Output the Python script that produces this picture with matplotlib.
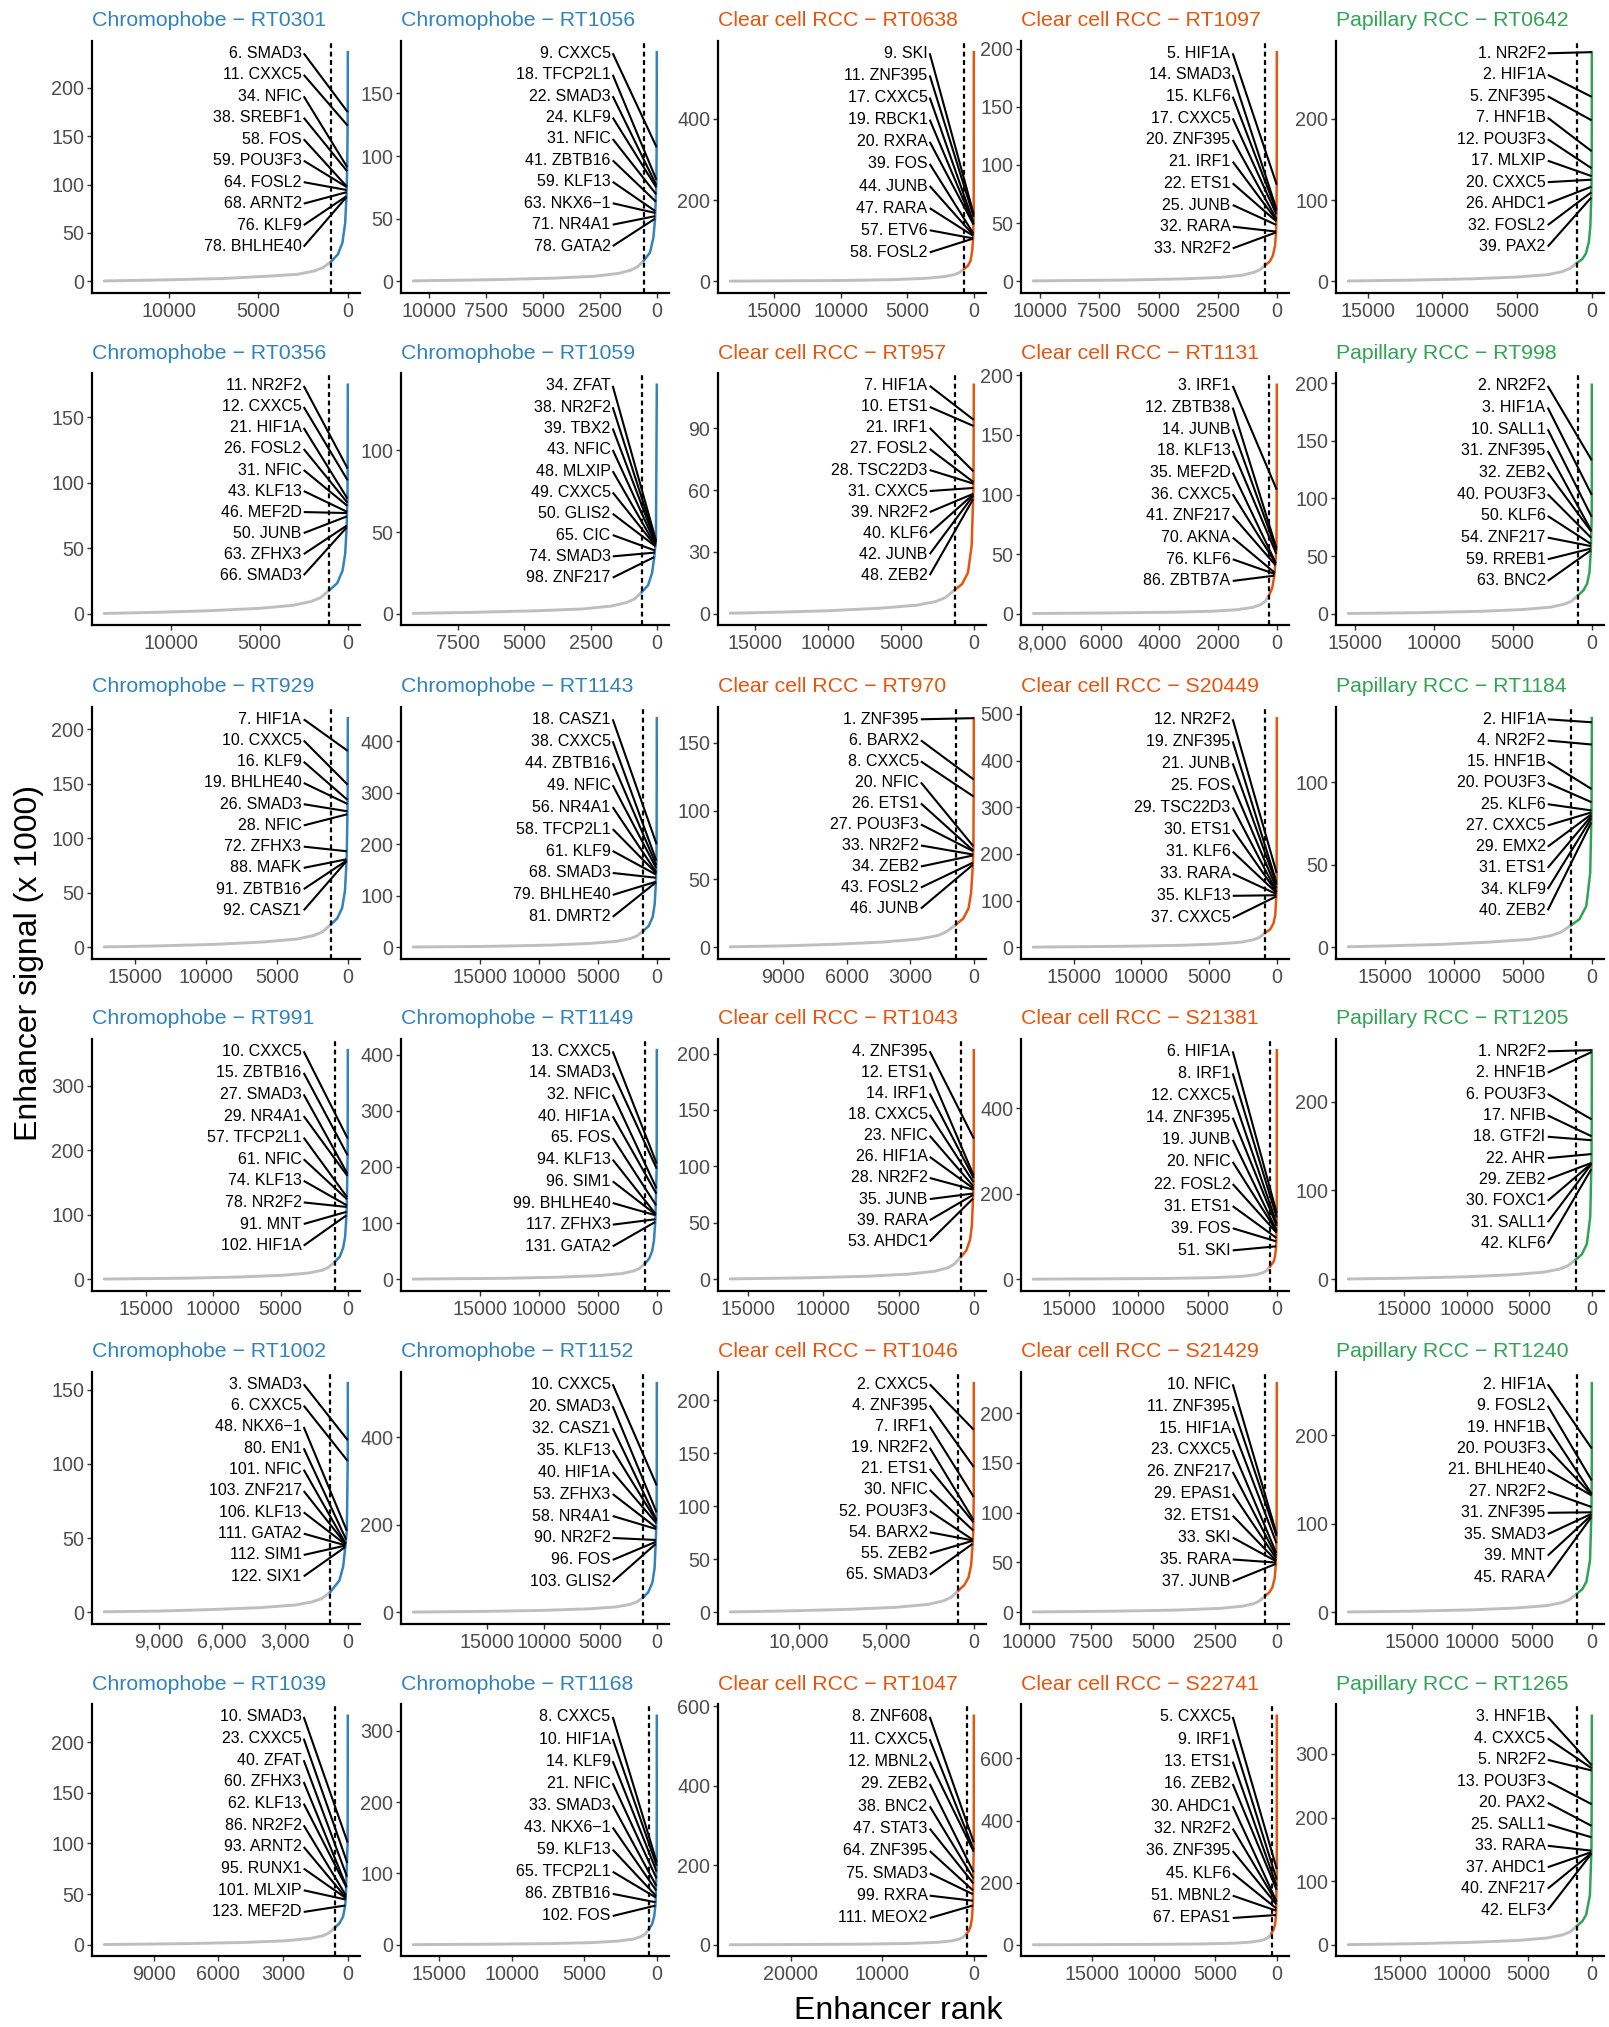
import numpy as np
import matplotlib
matplotlib.use("Agg")
import matplotlib.pyplot as plt

plt.rcParams['font.family'] = ['Liberation Sans', 'DejaVu Sans']

# ---- data -----------------------------------------------------------------
COLUMN_SUBTYPE = ["Chromophobe", "Chromophobe", "Clear cell RCC", "Clear cell RCC", "Papillary RCC"]
SUBTYPE_COLOR = {"Chromophobe": "#3182BD", "Clear cell RCC": "#E6550D", "Papillary RCC": "#31A354"}

SAMPLES = ["RT0301", "RT1056", "RT0638", "RT1097", "RT0642",
           "RT0356", "RT1059", "RT957", "RT1131", "RT998",
           "RT929", "RT1143", "RT970", "S20449", "RT1184",
           "RT991", "RT1149", "RT1043", "S21381", "RT1205",
           "RT1002", "RT1152", "RT1046", "S21429", "RT1240",
           "RT1039", "RT1168", "RT1047", "S22741", "RT1265"]

CUTOFF_RANK = [950, 570, 740, 480, 1000,
               1050, 570, 1300, 270, 880,
               1200, 1140, 850, 870, 1500,
               960, 1000, 860, 490, 1300,
               840, 1200, 880, 460, 1250,
               580, 540, 790, 420, 1150]

# enhancer rank / signal (x 1000) points
CURVE_RANK = [
    [1, 6, 11, 34, 78, 150, 300, 550, 950, 1400, 1900, 2800, 4500, 7000, 10000, 13600],
    [1, 9, 18, 78, 150, 300, 570, 850, 1150, 1700, 2800, 4500, 7000, 10700],
    [1, 9, 58, 120, 250, 450, 740, 1100, 1500, 2200, 3700, 6000, 10000, 18300],
    [1, 5, 14, 33, 80, 170, 300, 480, 720, 1000, 1450, 2400, 4000, 6500, 10300],
    [1, 2, 5, 7, 12, 20, 39, 100, 200, 400, 650, 1000, 1500, 2000, 3000, 5000, 8000, 12000, 16300],
    [1, 11, 12, 21, 46, 66, 150, 300, 600, 1050, 1550, 2100, 3100, 5000, 8000, 11000, 13800],
    [1, 34, 98, 180, 330, 570, 850, 1150, 1700, 2800, 4500, 7000, 9200],
    [1, 7, 10, 21, 31, 48, 150, 400, 800, 1300, 1950, 2600, 3900, 6500, 10000, 14000, 16700],
    [1, 3, 12, 86, 160, 270, 400, 540, 800, 1350, 2200, 3500, 5500, 8300],
    [1, 2, 3, 10, 31, 63, 150, 300, 550, 880, 1300, 1760, 2600, 4400, 7000, 11000, 15400],
    [1, 7, 10, 16, 26, 72, 92, 200, 400, 750, 1200, 1800, 2400, 3600, 6000, 9500, 13500, 17200],
    [1, 18, 38, 68, 81, 180, 350, 700, 1140, 1700, 2300, 3400, 5700, 9000, 14000, 20700],
    [1, 6, 8, 20, 33, 46, 130, 250, 500, 850, 1300, 1700, 2600, 4300, 6500, 9000, 11500],
    [1, 12, 37, 120, 250, 500, 870, 1300, 1750, 2600, 4400, 7000, 11000, 15000, 18000],
    [1, 2, 4, 15, 20, 25, 40, 120, 400, 900, 1500, 2250, 3000, 4500, 7500, 11000, 15000, 17700],
    [1, 10, 15, 78, 102, 200, 350, 600, 960, 1450, 1900, 2900, 4800, 8000, 12000, 18100],
    [1, 13, 14, 131, 250, 400, 650, 1000, 1500, 2000, 3000, 5000, 8500, 13000, 20700],
    [1, 4, 12, 35, 53, 130, 250, 500, 860, 1300, 1700, 2600, 4300, 7000, 11000, 16200],
    [1, 6, 39, 51, 120, 220, 490, 730, 1000, 1500, 2500, 4500, 8000, 13000, 17600],
    [1, 2, 6, 17, 22, 29, 42, 130, 400, 800, 1300, 1950, 2600, 3900, 6500, 10000, 15000, 19500],
    [1, 3, 6, 48, 122, 220, 400, 840, 1250, 1700, 2500, 4200, 6500, 9000, 11600],
    [1, 10, 20, 58, 90, 103, 200, 400, 750, 1200, 1800, 2400, 3600, 6000, 10000, 15000, 21500],
    [1, 2, 4, 7, 30, 54, 65, 150, 300, 550, 880, 1300, 1750, 2600, 4400, 7000, 10500, 13900],
    [1, 10, 37, 90, 180, 300, 460, 700, 920, 1400, 2300, 4000, 6500, 9850],
    [1, 2, 9, 21, 27, 31, 45, 150, 450, 800, 1250, 1900, 2500, 3750, 6300, 10000, 15000, 20300],
    [1, 10, 101, 123, 220, 380, 580, 870, 1150, 1750, 2900, 4800, 7500, 11300],
    [1, 8, 86, 102, 180, 330, 540, 800, 1100, 1600, 2700, 4500, 7500, 12000, 16800],
    [1, 8, 99, 111, 200, 350, 550, 790, 1200, 1600, 2400, 4000, 7000, 12000, 19000, 26600],
    [1, 5, 51, 67, 130, 250, 420, 630, 850, 1250, 2100, 3500, 6000, 10000, 15000, 19800],
    [1, 3, 5, 13, 20, 25, 33, 42, 150, 450, 750, 1150, 1700, 2300, 3500, 5800, 9500, 14000, 19100],
]
CURVE_SIGNAL = [
    [237, 175, 161, 118, 87, 60, 40, 28, 20, 14, 10.5, 7.2, 5.2, 2.8, 1.5, 0.3],
    [183, 107, 81, 50, 35, 23, 16.5, 11.5, 8.8, 6.2, 3.9, 2.5, 1.3, 0.3],
    [564, 165, 105, 75, 50, 38, 30, 21, 16, 11.5, 7, 4, 1.8, 0.3],
    [197, 83, 62, 42, 30, 22, 17, 14, 9.8, 7.5, 5.2, 3.3, 2, 1, 0.3],
    [282, 227, 198, 160, 139, 125, 103, 68, 48, 34, 27, 22.5, 15.5, 11.7, 8, 5.2, 3, 1.4, 0.3],
    [175, 111, 102, 88, 77, 66, 46, 33, 23.5, 18, 12.3, 9.4, 6.5, 4.2, 2.3, 1.1, 0.3],
    [140, 45, 34.7, 25, 17.5, 13.3, 9, 6.9, 4.8, 3, 1.9, 0.9, 0.3],
    [111, 94, 91, 69, 61, 55.6, 33, 20, 14.5, 11.6, 7.9, 6, 4.2, 2.7, 1.5, 0.7, 0.3],
    [192, 104, 55, 32, 21.5, 15.3, 10.4, 8, 5.5, 3.5, 2.2, 1.4, 0.8, 0.3],
    [198.5, 133, 103, 84, 72, 55, 36, 26, 20, 16, 10.9, 8.3, 5.8, 3.7, 2.2, 1, 0.3],
    [210, 180, 149, 135, 124.6, 88, 79, 52, 36, 26.5, 20.8, 14.1, 10.8, 7.5, 4.8, 2.6, 1.2, 0.3],
    [445, 200, 168, 135, 126, 84, 59, 41, 32, 21.8, 16.6, 11.5, 7.4, 4.2, 1.8, 0.4],
    [168, 123, 110.5, 74, 68, 60.5, 40, 28.5, 21, 16.6, 11.3, 8.6, 6, 3.8, 2.2, 1, 0.3],
    [491, 159, 109, 68, 51, 38, 30.7, 20.9, 16, 11, 7, 4.2, 2.2, 1, 0.3],
    [139, 136.5, 123, 96, 88, 83, 75.7, 45, 25, 17, 13.4, 9.1, 7, 4.8, 3.1, 1.7, 0.8, 0.3],
    [355, 218, 192, 112, 99, 66, 48.5, 35, 27, 18.4, 14, 9.7, 6.2, 3.5, 1.7, 0.3],
    [408, 206, 197, 102, 68, 50, 37, 28, 19, 14.6, 10, 6.4, 3.6, 1.7, 0.3],
    [203, 124.7, 92, 76, 71.5, 48, 35, 25.5, 19.8, 13.5, 10.3, 7.1, 4.6, 2.7, 1.3, 0.3],
    [536, 155, 88.6, 77, 55, 42, 29.8, 20.3, 15.5, 10.7, 6.8, 3.8, 1.9, 0.9, 0.3],
    [258, 256, 180, 161, 141, 131, 124, 70, 39.7, 28, 21.9, 14.9, 11.4, 7.9, 5, 2.8, 1.2, 0.3],
    [154.5, 116, 102, 55, 44, 31, 21.5, 13.5, 9.2, 7, 4.9, 3.1, 1.8, 0.8, 0.3],
    [523, 289.5, 228, 190, 165, 156, 100, 67, 46, 34, 23, 17.7, 12.2, 7.8, 4.3, 2, 0.4],
    [216, 172, 137, 108.7, 77, 67.7, 64.6, 45, 32.9, 25.5, 20.5, 14, 10.7, 7.4, 4.7, 2.8, 1.3, 0.3],
    [230, 78.7, 48.6, 34, 25, 20, 16.8, 11.4, 8.7, 6, 3.9, 2.2, 1.1, 0.3],
    [259, 185, 149, 132, 119, 113, 107.5, 59, 34.5, 26, 20.8, 14.1, 10.8, 7.5, 4.8, 2.7, 1.2, 0.3],
    [226, 101, 44.7, 38.8, 28, 21.5, 17.4, 11.8, 9, 6.3, 4, 2.4, 1.2, 0.3],
    [321, 116, 59.7, 55, 40, 29, 22.4, 15.2, 11.6, 8.1, 5.2, 3.1, 1.7, 0.8, 0.3],
    [576.5, 258, 111, 99, 68, 47, 35, 27.7, 18.8, 14.4, 10, 6.4, 3.6, 1.8, 0.8, 0.3],
    [737, 244, 110, 96, 68, 50, 38.6, 26.2, 20, 14, 8.9, 5.3, 3, 1.5, 0.7, 0.3],
    [360, 282, 274, 221, 187, 169, 148, 143, 78, 47, 37, 30, 20.4, 15.6, 10.8, 6.9, 3.9, 1.8, 0.3],
]

TF_RANK = [
    [6, 11, 34, 38, 58, 59, 64, 68, 76, 78],
    [9, 18, 22, 24, 31, 41, 59, 63, 71, 78],
    [9, 11, 17, 19, 20, 39, 44, 47, 57, 58],
    [5, 14, 15, 17, 20, 21, 22, 25, 32, 33],
    [1, 2, 5, 7, 12, 17, 20, 26, 32, 39],
    [11, 12, 21, 26, 31, 43, 46, 50, 63, 66],
    [34, 38, 39, 43, 48, 49, 50, 65, 74, 98],
    [7, 10, 21, 27, 28, 31, 39, 40, 42, 48],
    [3, 12, 14, 18, 35, 36, 41, 70, 76, 86],
    [2, 3, 10, 31, 32, 40, 50, 54, 59, 63],
    [7, 10, 16, 19, 26, 28, 72, 88, 91, 92],
    [18, 38, 44, 49, 56, 58, 61, 68, 79, 81],
    [1, 6, 8, 20, 26, 27, 33, 34, 43, 46],
    [12, 19, 21, 25, 29, 30, 31, 33, 35, 37],
    [2, 4, 15, 20, 25, 27, 29, 31, 34, 40],
    [10, 15, 27, 29, 57, 61, 74, 78, 91, 102],
    [13, 14, 32, 40, 65, 94, 96, 99, 117, 131],
    [4, 12, 14, 18, 23, 26, 28, 35, 39, 53],
    [6, 8, 12, 14, 19, 20, 22, 31, 39, 51],
    [1, 2, 6, 17, 18, 22, 29, 30, 31, 42],
    [3, 6, 48, 80, 101, 103, 106, 111, 112, 122],
    [10, 20, 32, 35, 40, 53, 58, 90, 96, 103],
    [2, 4, 7, 19, 21, 30, 52, 54, 55, 65],
    [10, 11, 15, 23, 26, 29, 32, 33, 35, 37],
    [2, 9, 19, 20, 21, 27, 31, 35, 39, 45],
    [10, 23, 40, 60, 62, 86, 93, 95, 101, 123],
    [8, 10, 14, 21, 33, 43, 59, 65, 86, 102],
    [8, 11, 12, 29, 38, 47, 64, 75, 99, 111],
    [5, 9, 13, 16, 30, 32, 36, 45, 51, 67],
    [3, 4, 5, 13, 20, 25, 33, 37, 40, 42],
]
TF_NAME = [
    ["SMAD3", "CXXC5", "NFIC", "SREBF1", "FOS", "POU3F3", "FOSL2", "ARNT2", "KLF9", "BHLHE40"],
    ["CXXC5", "TFCP2L1", "SMAD3", "KLF9", "NFIC", "ZBTB16", "KLF13", "NKX6\u22121", "NR4A1", "GATA2"],
    ["SKI", "ZNF395", "CXXC5", "RBCK1", "RXRA", "FOS", "JUNB", "RARA", "ETV6", "FOSL2"],
    ["HIF1A", "SMAD3", "KLF6", "CXXC5", "ZNF395", "IRF1", "ETS1", "JUNB", "RARA", "NR2F2"],
    ["NR2F2", "HIF1A", "ZNF395", "HNF1B", "POU3F3", "MLXIP", "CXXC5", "AHDC1", "FOSL2", "PAX2"],
    ["NR2F2", "CXXC5", "HIF1A", "FOSL2", "NFIC", "KLF13", "MEF2D", "JUNB", "ZFHX3", "SMAD3"],
    ["ZFAT", "NR2F2", "TBX2", "NFIC", "MLXIP", "CXXC5", "GLIS2", "CIC", "SMAD3", "ZNF217"],
    ["HIF1A", "ETS1", "IRF1", "FOSL2", "TSC22D3", "CXXC5", "NR2F2", "KLF6", "JUNB", "ZEB2"],
    ["IRF1", "ZBTB38", "JUNB", "KLF13", "MEF2D", "CXXC5", "ZNF217", "AKNA", "KLF6", "ZBTB7A"],
    ["NR2F2", "HIF1A", "SALL1", "ZNF395", "ZEB2", "POU3F3", "KLF6", "ZNF217", "RREB1", "BNC2"],
    ["HIF1A", "CXXC5", "KLF9", "BHLHE40", "SMAD3", "NFIC", "ZFHX3", "MAFK", "ZBTB16", "CASZ1"],
    ["CASZ1", "CXXC5", "ZBTB16", "NFIC", "NR4A1", "TFCP2L1", "KLF9", "SMAD3", "BHLHE40", "DMRT2"],
    ["ZNF395", "BARX2", "CXXC5", "NFIC", "ETS1", "POU3F3", "NR2F2", "ZEB2", "FOSL2", "JUNB"],
    ["NR2F2", "ZNF395", "JUNB", "FOS", "TSC22D3", "ETS1", "KLF6", "RARA", "KLF13", "CXXC5"],
    ["HIF1A", "NR2F2", "HNF1B", "POU3F3", "KLF6", "CXXC5", "EMX2", "ETS1", "KLF9", "ZEB2"],
    ["CXXC5", "ZBTB16", "SMAD3", "NR4A1", "TFCP2L1", "NFIC", "KLF13", "NR2F2", "MNT", "HIF1A"],
    ["CXXC5", "SMAD3", "NFIC", "HIF1A", "FOS", "KLF13", "SIM1", "BHLHE40", "ZFHX3", "GATA2"],
    ["ZNF395", "ETS1", "IRF1", "CXXC5", "NFIC", "HIF1A", "NR2F2", "JUNB", "RARA", "AHDC1"],
    ["HIF1A", "IRF1", "CXXC5", "ZNF395", "JUNB", "NFIC", "FOSL2", "ETS1", "FOS", "SKI"],
    ["NR2F2", "HNF1B", "POU3F3", "NFIB", "GTF2I", "AHR", "ZEB2", "FOXC1", "SALL1", "KLF6"],
    ["SMAD3", "CXXC5", "NKX6\u22121", "EN1", "NFIC", "ZNF217", "KLF13", "GATA2", "SIM1", "SIX1"],
    ["CXXC5", "SMAD3", "CASZ1", "KLF13", "HIF1A", "ZFHX3", "NR4A1", "NR2F2", "FOS", "GLIS2"],
    ["CXXC5", "ZNF395", "IRF1", "NR2F2", "ETS1", "NFIC", "POU3F3", "BARX2", "ZEB2", "SMAD3"],
    ["NFIC", "ZNF395", "HIF1A", "CXXC5", "ZNF217", "EPAS1", "ETS1", "SKI", "RARA", "JUNB"],
    ["HIF1A", "FOSL2", "HNF1B", "POU3F3", "BHLHE40", "NR2F2", "ZNF395", "SMAD3", "MNT", "RARA"],
    ["SMAD3", "CXXC5", "ZFAT", "ZFHX3", "KLF13", "NR2F2", "ARNT2", "RUNX1", "MLXIP", "MEF2D"],
    ["CXXC5", "HIF1A", "KLF9", "NFIC", "SMAD3", "NKX6\u22121", "KLF13", "TFCP2L1", "ZBTB16", "FOS"],
    ["ZNF608", "CXXC5", "MBNL2", "ZEB2", "BNC2", "STAT3", "ZNF395", "SMAD3", "RXRA", "MEOX2"],
    ["CXXC5", "IRF1", "ETS1", "ZEB2", "AHDC1", "NR2F2", "ZNF395", "KLF6", "MBNL2", "EPAS1"],
    ["HNF1B", "CXXC5", "NR2F2", "POU3F3", "PAX2", "SALL1", "RARA", "AHDC1", "ZNF217", "ELF3"],
]

X_TICKS = [
    [10000, 5000, 0], [10000, 7500, 5000, 2500, 0], [15000, 10000, 5000, 0],
    [10000, 7500, 5000, 2500, 0], [15000, 10000, 5000, 0],
    [10000, 5000, 0], [7500, 5000, 2500, 0], [15000, 10000, 5000, 0],
    [8000, 6000, 4000, 2000, 0], [15000, 10000, 5000, 0],
    [15000, 10000, 5000, 0], [15000, 10000, 5000, 0], [9000, 6000, 3000, 0],
    [15000, 10000, 5000, 0], [15000, 10000, 5000, 0],
    [15000, 10000, 5000, 0], [15000, 10000, 5000, 0], [15000, 10000, 5000, 0],
    [15000, 10000, 5000, 0], [15000, 10000, 5000, 0],
    [9000, 6000, 3000, 0], [15000, 10000, 5000, 0], [10000, 5000, 0],
    [10000, 7500, 5000, 2500, 0], [15000, 10000, 5000, 0],
    [9000, 6000, 3000, 0], [15000, 10000, 5000, 0], [20000, 10000, 0],
    [15000, 10000, 5000, 0], [15000, 10000, 5000, 0],
]
X_TICK_TEXT = {8: ["8,000", "6000", "4000", "2000", "0"],
               20: ["9,000", "6,000", "3,000", "0"],
               22: ["10,000", "5,000", "0"]}

Y_TICKS = [
    [0, 50, 100, 150, 200], [0, 50, 100, 150], [0, 200, 400], [0, 50, 100, 150, 200], [0, 100, 200],
    [0, 50, 100, 150], [0, 50, 100], [0, 30, 60, 90], [0, 50, 100, 150, 200], [0, 50, 100, 150, 200],
    [0, 50, 100, 150, 200], [0, 100, 200, 300, 400], [0, 50, 100, 150], [0, 100, 200, 300, 400, 500], [0, 50, 100],
    [0, 100, 200, 300], [0, 100, 200, 300, 400], [0, 50, 100, 150, 200], [0, 200, 400], [0, 100, 200],
    [0, 50, 100, 150], [0, 200, 400], [0, 50, 100, 150, 200], [0, 50, 100, 150, 200], [0, 100, 200],
    [0, 50, 100, 150, 200], [0, 100, 200, 300], [0, 200, 400, 600], [0, 200, 400, 600], [0, 100, 200, 300],
]

# ---- layout ---------------------------------------------------------------
W, H = 1609, 2027
COL_LEFT = [92, 401, 718, 1021, 1336]
ROW_TOP = [40.7, 373.3, 706.7, 1038.7, 1371.7, 1704.3]
AX_W, AX_H = 268, 252

# label column: lowest label position (axes fraction) and right edge
LABEL_LOW = [0.183, 0.185, 0.16, 0.176, 0.183,
             0.199, 0.189, 0.199, 0.176, 0.176,
             0.192, 0.166, 0.199, 0.162, 0.192,
             0.179, 0.176, 0.196, 0.16, 0.187,
             0.188, 0.166, 0.195, 0.168, 0.185,
             0.176, 0.16, 0.152, 0.152, 0.183]
LABEL_X = [0.79] * 30
LABEL_X[12] = 0.757

fig = plt.figure(figsize=(W / 100, H / 100), dpi=100)

for i in range(30):
    row, col = divmod(i, 5)
    ax = fig.add_axes([COL_LEFT[col] / W, 1 - (ROW_TOP[row] + AX_H) / H, AX_W / W, AX_H / H])
    subtype = COLUMN_SUBTYPE[col]
    color = SUBTYPE_COLOR[subtype]

    ranks = np.array(CURVE_RANK[i], dtype=float)
    sig = np.array(CURVE_SIGNAL[i], dtype=float)
    cut = CUTOFF_RANK[i]
    n = ranks[-1]
    ymax = sig.max()

    x0, x1 = n + 0.05 * (n - 1), 1 - 0.05 * (n - 1)
    y0, y1 = -0.05 * ymax, 1.05 * ymax
    ax.set_xlim(x0, x1)
    ax.set_ylim(y0, y1)

    low = ranks >= cut
    high = ranks <= cut
    ax.plot(ranks[low], sig[low], color="#BEBEBE", lw=2.1, zorder=2,
            solid_joinstyle="round", solid_capstyle="round")
    ax.plot(ranks[high], sig[high], color=color, lw=1.8, zorder=3, solid_joinstyle="round")
    ax.axvline(cut, color="black", lw=1.6, ls=(0, (2.2, 1.6)), zorder=4)

    # labelled transcription factors with leader lines
    ypos = np.linspace(0.95, LABEL_LOW[i], len(TF_RANK[i]))
    lx = LABEL_X[i]
    for r, name, yf in zip(TF_RANK[i], TF_NAME[i], ypos):
        ax.text(lx - 0.008, yf, f"{r}. {name}", transform=ax.transAxes,
                ha="right", va="center", fontsize=11.5, color="black", zorder=6)
        target = np.interp(np.log(r), np.log(ranks), sig)
        xd = x0 + lx * (x1 - x0)
        yd = y0 + yf * (y1 - y0)
        ax.plot([xd, r], [yd, target], color="black", lw=1.5, zorder=5,
                solid_capstyle="butt", clip_on=False)

    ax.text(0, 1 + 20 / AX_H, f"{subtype} \u2212 {SAMPLES[i]}", transform=ax.transAxes,
            ha="left", va="center", fontsize=15.3, color=color)

    ax.set_xticks(X_TICKS[i])
    ax.set_xticklabels(X_TICK_TEXT.get(i, [str(v) for v in X_TICKS[i]]))
    ax.set_yticks(Y_TICKS[i])
    ax.set_yticklabels([str(v) for v in Y_TICKS[i]])
    ax.tick_params(labelsize=14.2, color="#333333", labelcolor="#4D4D4D",
                   length=3.5, width=1.0, pad=2)
    ax.tick_params(axis="x", pad=3)
    for side in ["top", "right"]:
        ax.spines[side].set_visible(False)
    for side in ["left", "bottom"]:
        ax.spines[side].set_linewidth(1.6)
        ax.spines[side].set_color("black")

fig.text(898 / W, 1 - 2011 / H, "Enhancer rank", ha="center", va="center", fontsize=23)
fig.text(29 / W, 1 - 963 / H, "Enhancer signal (x 1000)", ha="center", va="center",
         rotation=90, fontsize=23)

fig.savefig("out.png", dpi=100)
